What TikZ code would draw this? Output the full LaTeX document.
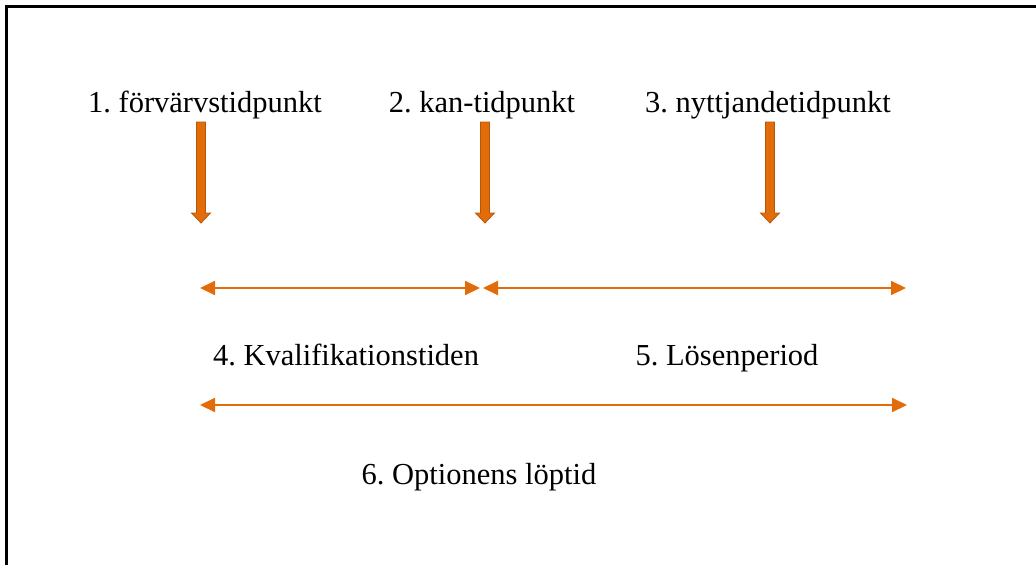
\documentclass[tikz,border=0pt]{standalone}
\usepackage{fontspec}
\setmainfont{Liberation Serif}
\usetikzlibrary{arrows.meta}
\frenchspacing

\definecolor{optorange}{HTML}{E36C0A}
\definecolor{optedge}{HTML}{B65708}

\tikzset{
    label/.style={anchor=base, inner sep=0pt, font=\fontsize{30.5}{34}\selectfont},
    span/.style={optorange, line width=2pt, {Triangle[length=15pt,width=14pt]}-{Triangle[length=15pt,width=14pt]}},
    pointer/.style={fill=optorange, draw=optedge, line width=0.8pt}
}

\begin{document}
\begin{tikzpicture}[x=1pt, y=-1pt]
    % Page size
    \useasboundingbox (0,0) rectangle (1036,565);

    % Frame (top and left)
    \draw[line width=3pt] (6.5,565) -- (6.5,6.5) -- (1036,6.5);

    % Time points
    \node[label] (forv) at (205,112) {1. förvärvstidpunkt};
    \node[label] (kan)  at (482,112) {2. kan-tidpunkt};
    \node[label] (nytt) at (768,112) {3. nyttjandetidpunkt};

    % Block arrows under the time points
    \foreach \x in {201, 485, 770} {
        \draw[pointer] (\x-4.5,122) -- (\x+4.5,122) -- (\x+4.5,213) -- (\x+9.5,213)
            -- (\x,223) -- (\x-9.5,213) -- (\x-4.5,213) -- cycle;
    }

    % Periods
    \coordinate (qstart) at (200,288);
    \coordinate (qend)   at (480,288);
    \coordinate (lstart) at (483,288);
    \coordinate (lend)   at (906,288);
    \coordinate (tstart) at (200,405);
    \coordinate (tend)   at (907,405);

    \draw[span] (qstart) -- (qend);
    \draw[span] (lstart) -- (lend);
    \draw[span] (tstart) -- (tend);

    % Period labels
    \node[label] (kval)  at (346,365) {4. Kvalifikationstiden};
    \node[label] (losen) at (727,365) {5. Lösenperiod};
    \node[label] (lopt)  at (479,484) {6. Optionens löptid};
\end{tikzpicture}
\end{document}
